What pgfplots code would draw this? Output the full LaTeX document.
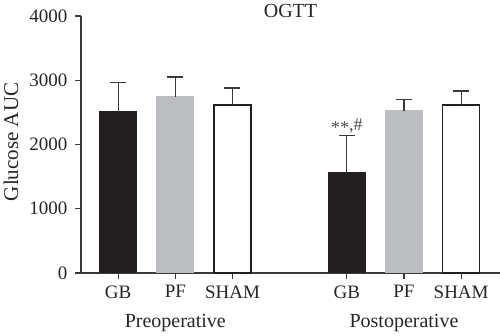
\documentclass[border=0pt]{standalone}
\usepackage{fontspec}
\setmainfont{Liberation Serif}
\usepackage{pgfplots}
\pgfplotsset{compat=1.18}
\definecolor{barblack}{HTML}{231F20}
\definecolor{bargray}{HTML}{BCBDC0}
\definecolor{axisgray}{HTML}{3A3A3A}
\begin{document}
\begin{tikzpicture}[x=1pt,y=1pt]
\useasboundingbox (0,0) rectangle (500,336);
\begin{axis}[
  at={(81pt,63pt)}, anchor=south west,
  scale only axis, width=419pt, height=257pt,
  xmin=-0.65, xmax=6.68, ymin=0, ymax=4000,
  clip=false,
  axis lines*=left,
  axis line style={axisgray, line width=1.2pt, -},
  ytick={0,1000,2000,3000,4000},
  xtick={0,1,2,4,5,6},
  xticklabels={GB,PF,SHAM,GB,PF,SHAM},
  tick align=outside, major tick length=6pt,
  tick style={axisgray, line width=1.2pt},
  tick label style={font=\fontsize{19}{21}\selectfont, text=black!85},
  xticklabel style={yshift=-3pt},
  yticklabel style={xshift=-4pt, /pgf/number format/1000 sep={}},
  /pgf/number format/assume math mode=true,
  scaled y ticks=false,
  ylabel={Glucose AUC},
  every axis y label/.style={at={(axis description cs:-0.167,0.51)}, rotate=90, anchor=center, font=\fontsize{21}{23}\selectfont, text=black!85},
  title={OGTT},
  every axis title/.style={at={(axis description cs:0.5,1)}, anchor=center, yshift=5pt, font=\fontsize{20}{22}\selectfont, text=black!85},
]
\addplot[ybar, bar width=37pt, bar shift=0pt, fill=barblack, draw=barblack, line width=1pt,
  error bars/.cd, y dir=plus, y explicit,
  error bar style={line width=1.2pt, axisgray},
  error mark options={rotate=90, mark size=8pt, line width=1.2pt, axisgray}]
  coordinates {(0,2510) +- (0,452) (4,1561) +- (0,576)};
\addplot[ybar, bar width=37pt, bar shift=0pt, fill=bargray, draw=bargray, line width=1pt,
  error bars/.cd, y dir=plus, y explicit,
  error bar style={line width=1.2pt, axisgray},
  error mark options={rotate=90, mark size=8pt, line width=1.2pt, axisgray}]
  coordinates {(1,2744) +- (0,306) (5,2526) +- (0,171)};
\addplot[ybar, bar width=37pt, bar shift=0pt, fill=white, draw=barblack, line width=1.2pt,
  error bars/.cd, y dir=plus, y explicit,
  error bar style={line width=1.2pt, axisgray},
  error mark options={rotate=90, mark size=8pt, line width=1.2pt, axisgray}]
  coordinates {(2,2615) +- (0,265) (6,2615) +- (0,218)};
\node[font=\fontsize{18}{20}\selectfont, text=black!70] at (axis cs:4,2137) [yshift=10pt] {\raisebox{-0.35ex}{**},\#};
\node[font=\fontsize{20}{22}\selectfont, text=black!85] at (axis cs:1,0) [yshift=-50pt] {Preoperative};
\node[font=\fontsize{20}{22}\selectfont, text=black!85] at (axis cs:5,0) [yshift=-50pt] {Postoperative};
\end{axis}
\end{tikzpicture}
\end{document}
